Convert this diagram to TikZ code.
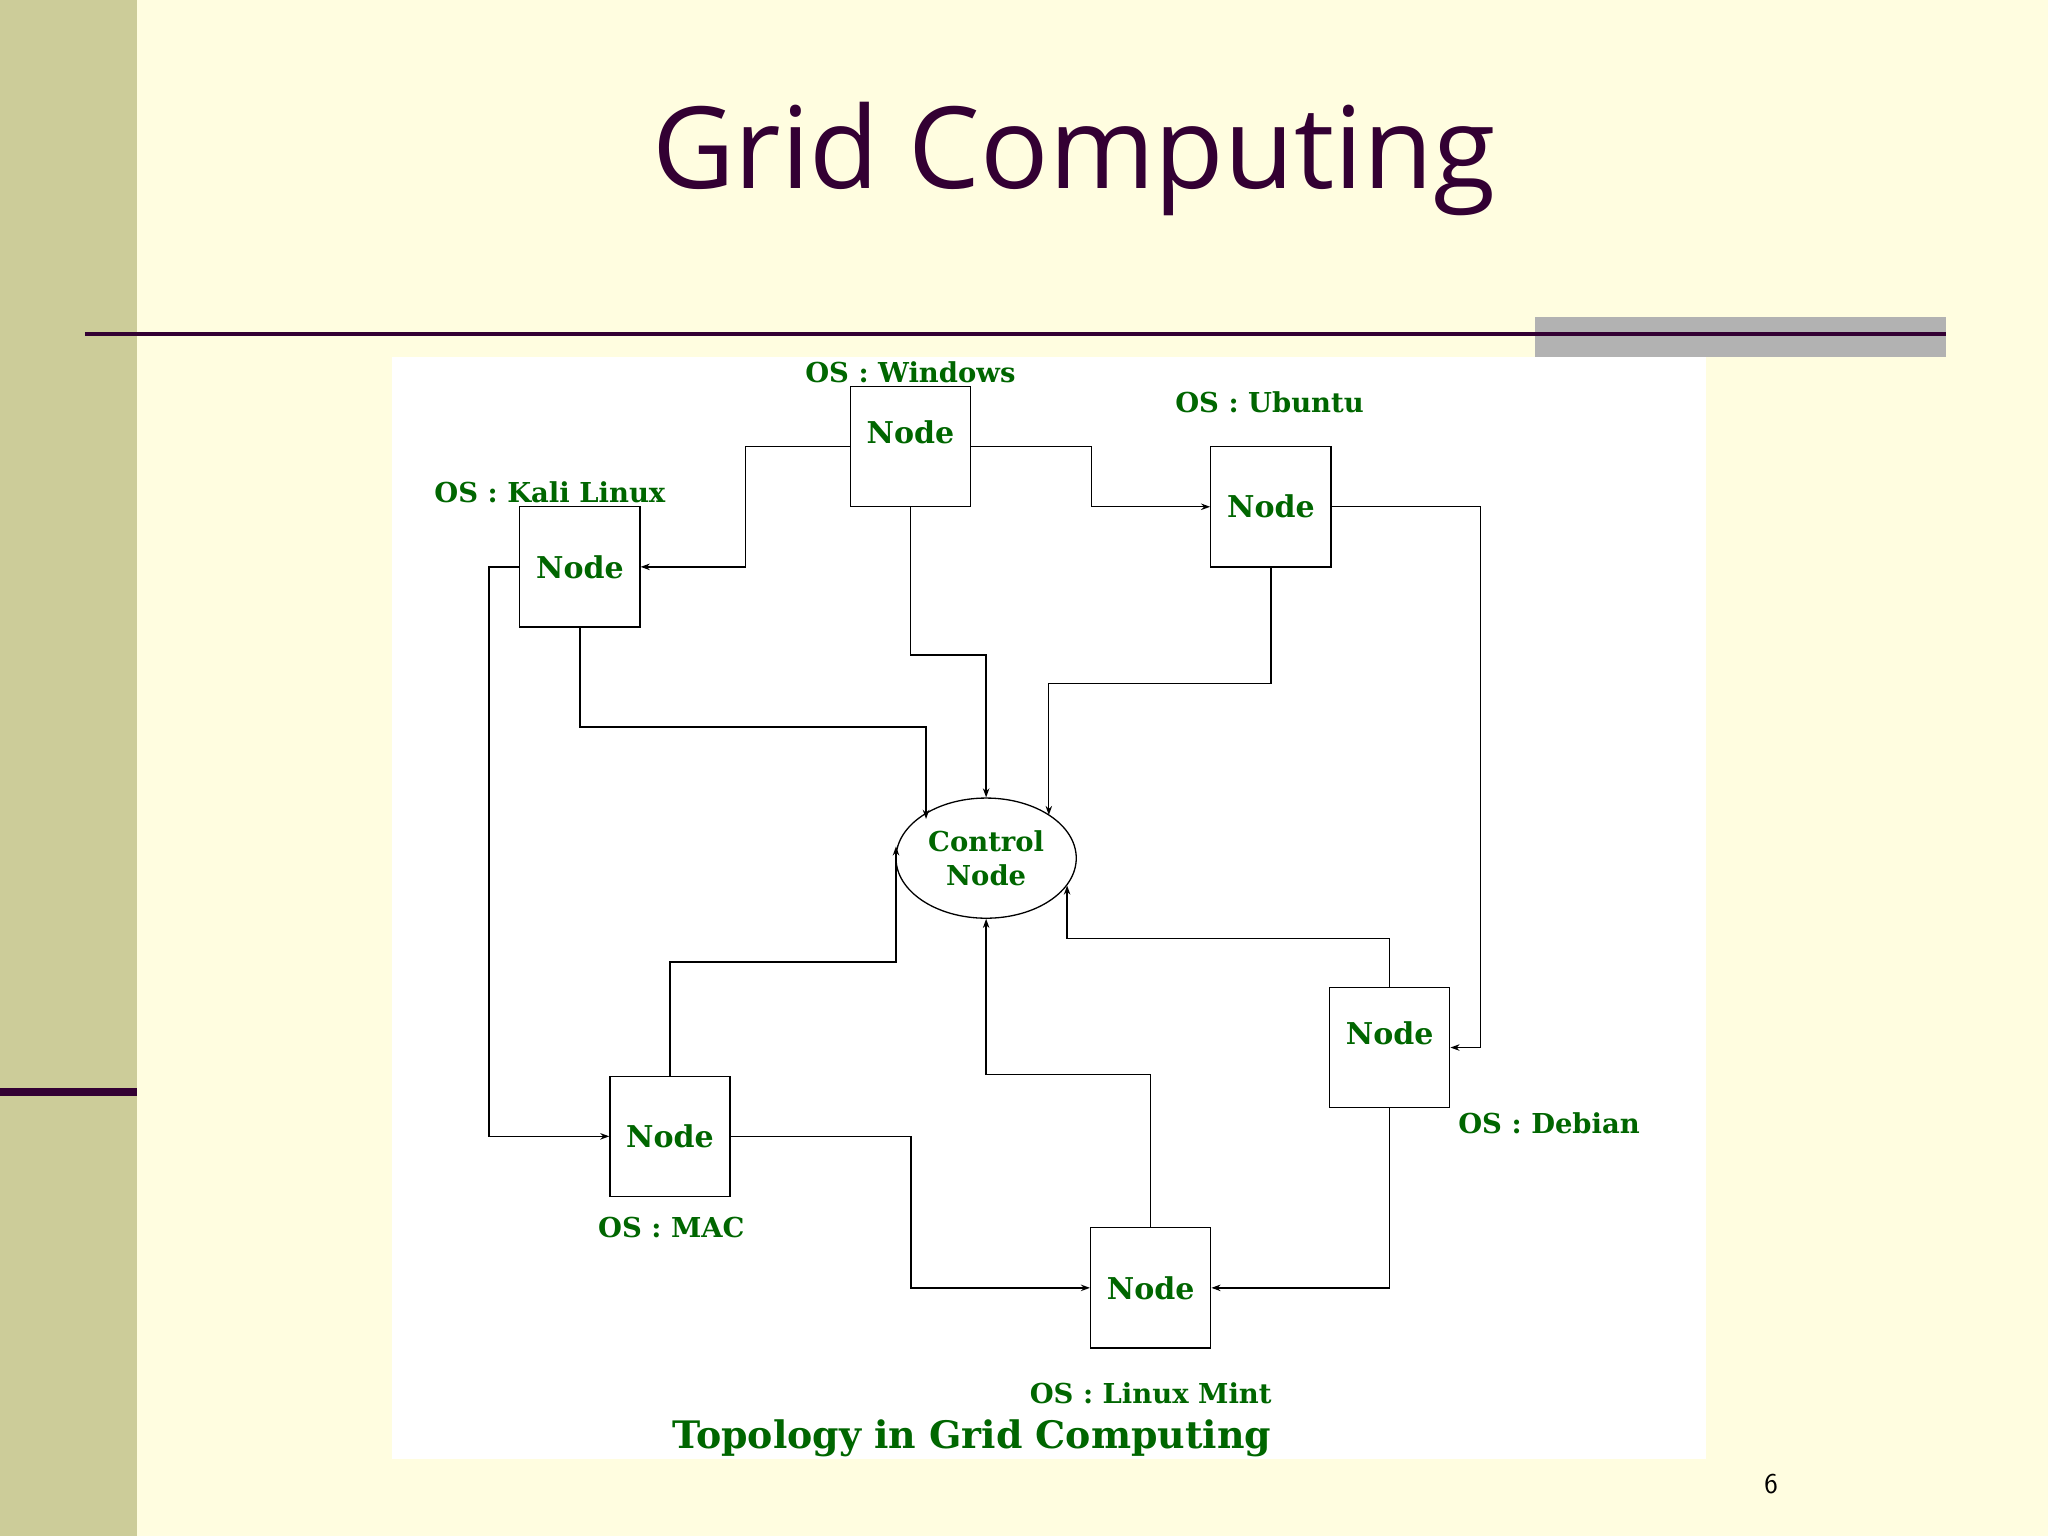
\documentclass[tikz,border=0pt]{standalone}
\usepackage{fontspec}
\setmainfont{DejaVu Serif}
\newfontfamily\titlefont{Open Sans}
\usetikzlibrary{arrows.meta,calc,shapes.geometric}
\definecolor{cream}{HTML}{FFFDE0}
\definecolor{olive}{HTML}{CCCC99}
\definecolor{plum}{HTML}{330033}
\definecolor{dgreen}{HTML}{006600}
\begin{document}
\begin{tikzpicture}[x=1pt,y=-1pt,
  box/.style={draw,line width=1pt,minimum width=92pt,minimum height=92pt,inner sep=0pt,
    text=dgreen,font=\bfseries\fontsize{23}{26}\selectfont},
  ctl/.style={draw,ellipse,line width=1pt,minimum width=138pt,minimum height=92pt,inner sep=0pt,
    text=dgreen,align=center,font=\bfseries\fontsize{21}{26}\selectfont},
  lbl/.style={text=dgreen,font=\bfseries\fontsize{21}{24}\selectfont},
  arr/.style={line width=1pt,-{Stealth[length=7pt,width=5pt]}}]
\useasboundingbox (0,0) rectangle (1568,1176);
% slide background
\fill[cream] (0,0) rectangle (1568,1176);
\fill[olive] (0,0) rectangle (105,1176);
\fill[plum] (0,833) rectangle (105,839);
\fill[black!30] (1175,243) rectangle (1490,273);
\draw[plum,line width=3pt] (65,256) -- (1490,256);
\fill[white] (300,273) rectangle (1306,1117);
\node[text=plum,font=\titlefont\fontsize{87}{100}\selectfont] (title) at (822,122) {Grid Computing};
\node[font=\sffamily\fontsize{22}{26}\selectfont] (pg) at (1356,1136) {6};

% nodes
\node[box] (win) at (697,342) {\raisebox{22pt}{Node}};
\node[box] (ubu) at (973,388) {Node};
\node[box] (kali) at (444,434) {Node};
\node[box] (mac) at (513,870) {Node};
\node[box] (deb) at (1064,802) {\raisebox{22pt}{Node}};
\node[box] (mint) at (881,986) {Node};
\node[ctl] (ctl) at (755,657) {Control\\Node};

% labels
\node[lbl] (lwin) at (697,285) {OS : Windows};
\node[lbl] (lubu) at (972,308) {OS : Ubuntu};
\node[lbl] (lkali) at (421,377) {OS : Kali Linux};
\node[lbl] (lmac) at (514,940) {OS : MAC};
\node[lbl] (ldeb) at (1186,860) {OS : Debian};
\node[lbl] (lmint) at (881,1067) {OS : Linux Mint};
\node[text=dgreen,font=\bfseries\fontsize{29}{32}\selectfont] (cap) at (744,1101) {Topology in Grid Computing};

% connectors
\draw[arr] (win.west) -- ++(-80,0) |- (kali.east);
\draw[arr] (win.east) -- ++(92,0) |- (ubu.west);
\draw[arr] (win.south) -- ++(0,113) -| (ctl.north);
\draw[arr] (ubu.south) -- ++(0,89) -| ($(ctl.center)+(48,-33)$);
\draw[arr] (kali.south) -- ++(0,76) -| ($(ctl.center)+(-46,-30)$);
\draw[arr] (kali.west) -- ++(-23,0) |- (mac.west);
\draw[arr] (ubu.east) -- ++(114,0) |- (deb.east);
\draw[arr] (mac.north) -- ++(0,-87) -| ($(ctl.center)+(-69,-9)$);
\draw[arr] (mac.east) -- ++(138,0) |- (mint.west);
\draw[arr] (mint.north) -- ++(0,-117) -| (ctl.south);
\draw[arr] (deb.north) -- ++(0,-37) -| ($(ctl.center)+(62,21)$);
\draw[arr] (deb.south) |- (mint.east);
\end{tikzpicture}
\end{document}
